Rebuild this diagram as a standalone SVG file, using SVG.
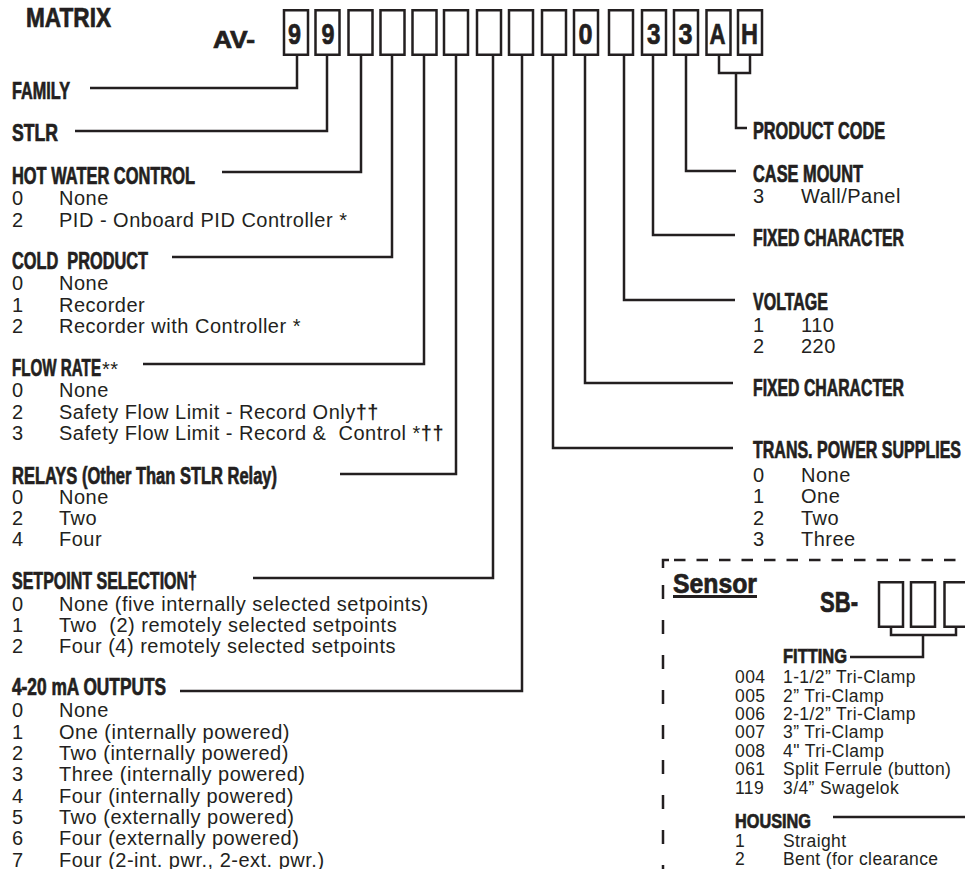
<svg xmlns="http://www.w3.org/2000/svg" width="965" height="869" viewBox="0 0 965 869">
<style>
.h{font-family:"Liberation Sans Narrow","Liberation Sans",Arial,sans-serif;font-weight:bold;font-size:23px;fill:#231f20;stroke:#231f20;stroke-width:0.7px}
.t{font-family:"Liberation Sans",Arial,sans-serif;font-size:20px;letter-spacing:0.5px;fill:#231f20}
.f{font-family:"Liberation Sans",Arial,sans-serif;font-size:17.5px;letter-spacing:0.4px;fill:#231f20}
.d{font-family:"Liberation Sans Narrow","Liberation Sans",Arial,sans-serif;font-weight:bold;font-size:30px;fill:#231f20;stroke:#231f20;stroke-width:0.7px}
.b{font-weight:bold}
.box{fill:#fff;stroke:#231f20;stroke-width:2.5}
.c{fill:none;stroke:#231f20;stroke-width:2.5}
</style>
<rect width="965" height="869" fill="#fff"/>

<g id="title">
<text class="h" x="26" y="27" style="font-size:28px" textLength="85" lengthAdjust="spacingAndGlyphs">MATRIX</text>
<text class="h" x="213" y="48" style="font-size:23px" textLength="42" lengthAdjust="spacingAndGlyphs">AV-</text>
</g>

<g id="code-boxes">
<rect class="box" x="284" y="10.25" width="24" height="44.5"/>
<rect class="box" x="315.5" y="10.25" width="24" height="44.5"/>
<rect class="box" x="348.5" y="10.25" width="24" height="44.5"/>
<rect class="box" x="380.5" y="10.25" width="24" height="44.5"/>
<rect class="box" x="412.5" y="10.25" width="24" height="44.5"/>
<rect class="box" x="444" y="10.25" width="24" height="44.5"/>
<rect class="box" x="477" y="10.25" width="24" height="44.5"/>
<rect class="box" x="509" y="10.25" width="24" height="44.5"/>
<rect class="box" x="542" y="10.25" width="24" height="44.5"/>
<rect class="box" x="574" y="10.25" width="24" height="44.5"/>
<rect class="box" x="609" y="10.25" width="24" height="44.5"/>
<rect class="box" x="642" y="10.25" width="24" height="44.5"/>
<rect class="box" x="674" y="10.25" width="24" height="44.5"/>
<rect class="box" x="706.5" y="10.25" width="24" height="44.5"/>
<rect class="box" x="738" y="10.25" width="24" height="44.5"/>
<text class="d" x="288" y="44" textLength="13" lengthAdjust="spacingAndGlyphs">9</text>
<text class="d" x="321.5" y="44" textLength="13" lengthAdjust="spacingAndGlyphs">9</text>
<text class="d" x="578.5" y="44" textLength="14" lengthAdjust="spacingAndGlyphs">0</text>
<text class="d" x="647" y="44" textLength="13.5" lengthAdjust="spacingAndGlyphs">3</text>
<text class="d" x="678.5" y="44" textLength="14" lengthAdjust="spacingAndGlyphs">3</text>
<text class="d" x="709.5" y="44" textLength="16" lengthAdjust="spacingAndGlyphs">A</text>
<text class="d" x="741" y="44" textLength="17" lengthAdjust="spacingAndGlyphs">H</text>
</g>

<g id="connectors">
<path class="c" d="M90 88H297V56"/>
<path class="c" d="M75 131H327V56"/>
<path class="c" d="M222 172H361V56"/>
<path class="c" d="M172 257H392V56"/>
<path class="c" d="M143 364H424V56"/>
<path class="c" d="M340 474H456V56"/>
<path class="c" d="M253 578H493V56"/>
<path class="c" d="M180 691H522V56"/>
<path class="c" d="M733 448H553V56"/>
<path class="c" d="M733 383H585V56"/>
<path class="c" d="M735 300H624V56"/>
<path class="c" d="M735 235H653V56"/>
<path class="c" d="M736 171H686V56"/>
<path class="c" d="M719 56V73H750V56M736 73V128H747"/>
<path class="c" d="M891 628V635H956V628M923 635V657H850"/>
<path class="c" d="M833 817H965"/>
</g>

<g id="family">
<text class="h" x="12" y="98.5" textLength="58" lengthAdjust="spacingAndGlyphs">FAMILY</text>
</g>
<g id="stlr">
<text class="h" x="12" y="141" textLength="46" lengthAdjust="spacingAndGlyphs">STLR</text>
</g>
<g id="hot-water-control">
<text class="h" x="12" y="183.5" textLength="183" lengthAdjust="spacingAndGlyphs">HOT WATER CONTROL</text>
<text class="t" x="12" y="205">0</text><text class="t" x="59" y="205">None</text>
<text class="t" x="12" y="227">2</text><text class="t" x="59" y="227">PID - Onboard PID Controller *</text>
</g>
<g id="cold-product">
<text class="h" x="12" y="269" textLength="136" lengthAdjust="spacingAndGlyphs">COLD&#160; PRODUCT</text>
<text class="t" x="12" y="290">0</text><text class="t" x="59" y="290">None</text>
<text class="t" x="12" y="312">1</text><text class="t" x="59" y="312">Recorder</text>
<text class="t" x="12" y="333">2</text><text class="t" x="59" y="333">Recorder with Controller *</text>
</g>
<g id="flow-rate">
<text class="h" x="12" y="375.5" textLength="89" lengthAdjust="spacingAndGlyphs">FLOW RATE</text><text class="t" x="102" y="375.5">**</text>
<text class="t" x="12" y="397">0</text><text class="t" x="59" y="397">None</text>
<text class="t" x="12" y="419">2</text><text class="t" x="59" y="419">Safety Flow Limit - Record Only<tspan class="b">††</tspan></text>
<text class="t" x="12" y="440">3</text><text class="t" x="59" y="440">Safety Flow Limit - Record &amp;&#160; Control *<tspan class="b">††</tspan></text>
</g>
<g id="relays">
<text class="h" x="12" y="484" textLength="265" lengthAdjust="spacingAndGlyphs">RELAYS (Other Than STLR Relay)</text>
<text class="t" x="12" y="504">0</text><text class="t" x="59" y="504">None</text>
<text class="t" x="12" y="525">2</text><text class="t" x="59" y="525">Two</text>
<text class="t" x="12" y="546">4</text><text class="t" x="59" y="546">Four</text>
</g>
<g id="setpoint-selection">
<text class="h" x="12" y="589" textLength="185" lengthAdjust="spacingAndGlyphs">SETPOINT SELECTION†</text>
<text class="t" x="12" y="611">0</text><text class="t" x="59" y="611">None (five internally selected setpoints)</text>
<text class="t" x="12" y="632">1</text><text class="t" x="59" y="632">Two&#160; (2) remotely selected setpoints</text>
<text class="t" x="12" y="653">2</text><text class="t" x="59" y="653">Four (4) remotely selected setpoints</text>
</g>
<g id="outputs">
<text class="h" x="12" y="695" textLength="154" lengthAdjust="spacingAndGlyphs">4-20 mA OUTPUTS</text>
<text class="t" x="12" y="717">0</text><text class="t" x="59" y="717">None</text>
<text class="t" x="12" y="738.5">1</text><text class="t" x="59" y="738.5">One (internally powered)</text>
<text class="t" x="12" y="760">2</text><text class="t" x="59" y="760">Two (internally powered)</text>
<text class="t" x="12" y="781">3</text><text class="t" x="59" y="781">Three (internally powered)</text>
<text class="t" x="12" y="802.5">4</text><text class="t" x="59" y="802.5">Four (internally powered)</text>
<text class="t" x="12" y="824">5</text><text class="t" x="59" y="824">Two (externally powered)</text>
<text class="t" x="12" y="845">6</text><text class="t" x="59" y="845">Four (externally powered)</text>
<text class="t" x="12" y="866.5">7</text><text class="t" x="59" y="866.5">Four (2-int. pwr., 2-ext. pwr.)</text>
</g>

<g id="product-code">
<text class="h" x="753" y="139" textLength="132" lengthAdjust="spacingAndGlyphs">PRODUCT CODE</text>
</g>
<g id="case-mount">
<text class="h" x="753" y="182" textLength="110" lengthAdjust="spacingAndGlyphs">CASE MOUNT</text>
<text class="t" x="753" y="203">3</text><text class="t" x="801" y="203">Wall/Panel</text>
</g>
<g id="fixed-character-1">
<text class="h" x="753" y="246" textLength="151" lengthAdjust="spacingAndGlyphs">FIXED CHARACTER</text>
</g>
<g id="voltage">
<text class="h" x="753" y="310" textLength="75" lengthAdjust="spacingAndGlyphs">VOLTAGE</text>
<text class="t" x="753" y="332">1</text><text class="t" x="801" y="332">110</text>
<text class="t" x="753" y="353">2</text><text class="t" x="801" y="353">220</text>
</g>
<g id="fixed-character-2">
<text class="h" x="753" y="396" textLength="151" lengthAdjust="spacingAndGlyphs">FIXED CHARACTER</text>
</g>
<g id="trans-power-supplies">
<text class="h" x="753" y="458" textLength="208" lengthAdjust="spacingAndGlyphs">TRANS. POWER SUPPLIES</text>
<text class="t" x="753" y="482">0</text><text class="t" x="801" y="482">None</text>
<text class="t" x="753" y="503">1</text><text class="t" x="801" y="503">One</text>
<text class="t" x="753" y="525">2</text><text class="t" x="801" y="525">Two</text>
<text class="t" x="753" y="546">3</text><text class="t" x="801" y="546">Three</text>
</g>

<g id="sensor">
<path class="c" d="M663 568V560H669"/>
<path class="c" d="M674 560H965" stroke-dasharray="11.5 11"/>
<path class="c" d="M663 585V869" stroke-dasharray="14 21"/>
<text class="h" x="673" y="593" style="font-size:27px" textLength="84" lengthAdjust="spacingAndGlyphs">Sensor</text>
<rect x="673" y="595" width="84" height="3" fill="#231f20"/>
<text class="h" x="820" y="612" style="font-size:30px" textLength="38" lengthAdjust="spacingAndGlyphs">SB-</text>
<rect class="box" x="879" y="582.25" width="24" height="44.5"/>
<rect class="box" x="911" y="582.25" width="24" height="44.5"/>
<rect class="box" x="944.5" y="582.25" width="24" height="44.5"/>
</g>
<g id="fitting">
<text class="h" x="783" y="663" style="font-size:21px" textLength="64" lengthAdjust="spacingAndGlyphs">FITTING</text>
<text class="f" x="735" y="683">004</text><text class="f" x="783" y="683">1-1/2” Tri-Clamp</text>
<text class="f" x="735" y="702">005</text><text class="f" x="783" y="702">2” Tri-Clamp</text>
<text class="f" x="735" y="720">006</text><text class="f" x="783" y="720">2-1/2” Tri-Clamp</text>
<text class="f" x="735" y="738">007</text><text class="f" x="783" y="738">3” Tri-Clamp</text>
<text class="f" x="735" y="757">008</text><text class="f" x="783" y="757">4" Tri-Clamp</text>
<text class="f" x="735" y="775">061</text><text class="f" x="783" y="775">Split Ferrule (button)</text>
<text class="f" x="735" y="794">119</text><text class="f" x="783" y="794">3/4” Swagelok</text>
</g>
<g id="housing">
<text class="h" x="735" y="828" style="font-size:21px" textLength="76" lengthAdjust="spacingAndGlyphs">HOUSING</text>
<text class="f" x="735" y="847">1</text><text class="f" x="783" y="847">Straight</text>
<text class="f" x="735" y="865">2</text><text class="f" x="783" y="865">Bent (for clearance</text>
</g>
</svg>
